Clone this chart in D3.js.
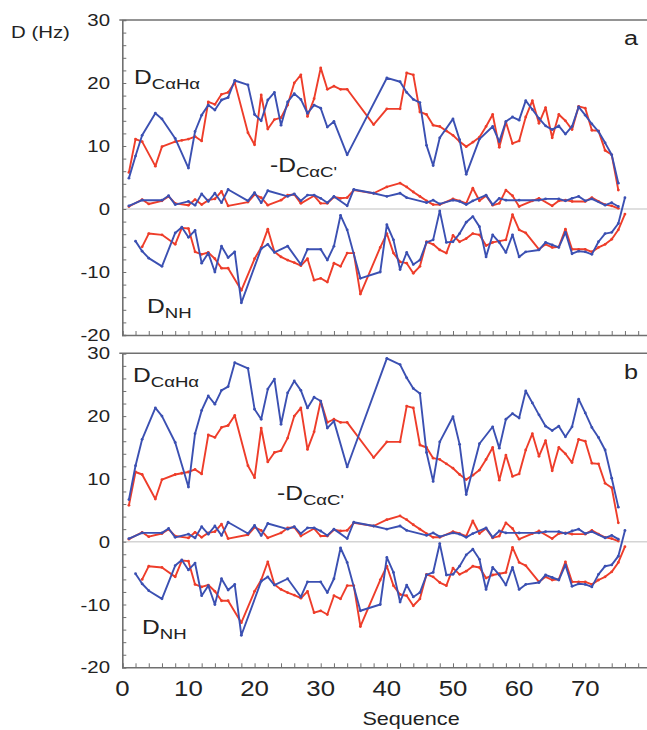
<!DOCTYPE html>
<html>
<head>
<meta charset="utf-8">
<script src="https://cdn.jsdelivr.net/npm/d3@7"></script>
<style>
  html, body { margin: 0; padding: 0; background: #fff; }
  svg { display: block; }
  text { font-family: "Liberation Sans", Arial, sans-serif; fill: #222; }
</style>
</head>
<body>
<svg id="chart" width="647" height="730"></svg>
<script>
// Residue numbers 1..76; null marks residues without a measured coupling.
const sequence = d3.range(1, 77);

// D(CαHα), experimental (red), shared by both panels
const chExp = [5.8, 11.1, 10.7, null, 6.8, 9.9, null, 10.7, 10.9, 11.1,
  11.5, 10.8, 17.0, 16.6, 18.2, 18.5, 20.1, null, 12.1, 10.2,
  18.1, 12.7, 14.2, 14.5, 16.5, 20.0, 21.3, 14.7, 17.5, 22.4,
  19.0, 19.5, 19.0, 19.0, null, null, null, 13.4, null, 15.9,
  null, 15.9, 21.6, 21.3, 15.4, 15.0, 13.3, 13.1, 12.4, 11.7,
  10.7, 9.9, 10.6, 11.4, 13.1, 15.0, 9.8, 13.8, 10.4, 10.8,
  14.6, 17.2, 13.6, 16.1, 11.3, 15.0, 14.0, 12.6, 16.3, 16.0,
  12.5, 12.4, 9.3, 8.6, 3.0, null];

// D(CαHα), calculated (blue), panel a
const chCalcA = [4.9, 8.4, 11.7, null, 15.2, 14.3, null, 11.2, null, 6.5,
  12.3, 14.9, 16.5, 15.7, 17.3, 17.7, 20.4, null, 19.7, 15.0,
  14.0, 17.3, 18.5, 13.3, 17.0, 18.3, 17.4, 15.2, 16.5, 16.0,
  13.0, 13.9, null, 8.6, null, null, null, null, null, 20.8,
  null, 20.2, 18.5, 17.4, 16.9, 10.1, 6.9, 11.3, null, 14.3,
  11.0, 5.5, null, 11.1, null, 13.1, 10.7, 13.9, 14.6, 14.1,
  17.2, 15.8, 14.4, 13.2, 12.6, 13.2, 11.9, 13.1, 16.2, 14.9,
  13.5, 12.3, 10.5, 8.6, 4.1, null];

// D(CαHα), calculated (blue), panel b
const chCalcB = [6.7, 12.1, 16.3, null, 21.3, 20.0, null, 15.8, null, 8.7,
  17.2, 20.9, 23.2, 21.9, 24.1, 24.7, 28.5, null, 27.6, 21.1,
  19.5, 24.3, 25.9, 18.7, 23.7, 25.6, 24.1, 21.3, 23.0, 22.4,
  18.1, 19.2, null, 11.9, null, null, null, null, null, 29.2,
  null, 28.2, 26.1, 24.4, 23.6, 14.2, 9.6, 15.9, null, 19.9,
  15.5, 7.5, null, 15.6, null, 18.3, 14.9, 19.5, 20.4, 19.7,
  24.0, 22.1, 20.2, 18.4, 17.7, 18.4, 16.7, 18.3, 22.7, 20.5,
  18.2, 16.6, 14.6, 10.1, 5.5, null];

// -D(CαC'), experimental (red)
const ccExp = [0.4, null, 1.5, 0.8, null, 1.3, 2.0, 0.9, null, 0.6,
  1.5, 0.7, 1.4, 1.6, 2.8, 0.5, null, null, 1.1, 2.3,
  1.8, 0.6, null, 1.4, 2.2, 2.3, 0.9, null, 2.1, 0.9,
  0.9, 1.9, 1.7, 1.8, 3.0, null, null, 2.5, null, 3.5,
  null, 4.1, 3.5, 2.7, 2.0, 1.3, 0.7, 0.7, null, 1.6,
  1.3, 0.9, 3.3, 1.3, 2.1, 0.6, 0.9, 3.0, 2.1, 0.4,
  null, 1.3, 1.7, null, 0.5, 1.3, 1.4, 1.2, null, 1.2,
  1.8, 1.2, 0.7, 0.5, 0.1, null];

// -D(CαC'), calculated (blue)
const ccCalc = [0.5, null, 1.4, null, null, 1.4, 2.1, 0.7, null, 1.2,
  0.6, 2.4, 1.2, 2.5, 1.0, 3.1, null, null, 1.3, 2.6,
  1.0, 2.9, null, null, 2.0, 2.4, 1.3, 2.2, 2.2, 1.7,
  1.0, 2.0, null, 0.5, 3.1, null, null, 2.5, null, 2.0,
  null, 2.5, 1.8, null, null, 1.0, 1.4, 0.8, null, 1.4,
  1.2, 0.7, 1.3, null, 2.2, 0.7, 1.7, 1.4, null, 1.4,
  null, null, 1.4, 1.6, null, 1.6, 1.3, 1.7, 2.0, 1.3,
  1.6, null, 0.6, 1.0, 0.4, null];

// D(NH), experimental (red)
const nhExp = [null, null, -6.0, -3.9, null, -4.1, null, -5.6, -3.0, -3.1,
  -6.8, -7.2, -6.9, -7.9, -9.4, -9.4, null, -12.9, null, -7.9,
  -6.1, -3.2, -6.8, -7.6, -8.1, -8.5, -9.0, -7.9, -11.3, -11.0,
  -11.6, -8.6, -9.1, -7.0, -7.0, -13.5, null, null, -6.1, -3.9,
  -7.0, -8.4, -8.6, -10.2, -9.1, -5.2, -5.6, -6.5, -7.0, -4.2,
  -5.2, -4.7, -3.9, -4.1, -5.8, -5.3, -5.1, -4.9, -0.9, -3.3,
  -3.8, null, -6.4, -5.6, -6.1, -6.0, -3.2, -6.4, -6.4, -6.4,
  -6.8, -6.1, -5.6, -4.8, -3.3, -0.8];

// D(NH), calculated (blue)
const nhCalc = [null, -5.1, -6.7, -7.8, null, -9.1, null, -3.8, -2.9, -4.5,
  -3.4, -8.6, -7.0, -10.0, -5.9, -7.7, -6.8, -14.9, null, null,
  -6.3, -5.6, -6.9, null, -5.9, null, -8.8, -6.4, null, -6.4,
  -8.1, -5.9, -1.0, -3.3, null, -11.0, null, null, -10.0, -2.5,
  -4.9, -9.6, -6.9, -8.8, -8.1, -5.3, -4.9, -0.3, -5.3, -5.2,
  -3.9, -2.1, -1.2, -2.8, -7.6, -4.1, -5.3, -6.9, -4.1, -7.6,
  -6.8, null, -6.5, -5.3, -5.7, -6.1, -3.7, -7.1, -6.7, -6.8,
  -7.2, -5.2, -3.9, -3.7, -2.3, 1.8];

const yTickValues = [-20, -10, 0, 10, 20, 30];
const xTickValues = [0, 10, 20, 30, 40, 50, 60, 70];

const RED = "#ee3d2a";
const BLUE = "#3b50b2";
const AXIS = "#707070";
const STRETCH = 1.2;   // horizontal stretch applied to all lettering

const svg = d3.select("#chart");

const x = d3.scaleLinear().domain([0, 80]).range([122.3, 651.4]);

const panels = [
  { top: 20, bottom: 335, chCalc: chCalcA, tag: "a",
    chLabel: [134, 84], ccLabel: [270, 172], nhLabel: [147, 313], tagPos: [624, 45] },
  { top: 353.3, bottom: 667.3, chCalc: chCalcB, tag: "b",
    chLabel: [133, 382], ccLabel: [277, 500], nhLabel: [142, 634], tagPos: [624, 379] }
];

function stretchedText(parent, px, py, size, anchor) {
  return parent.append("text")
    .attr("transform", `translate(${px},${py}) scale(${STRETCH},1)`)
    .attr("font-size", size)
    .attr("text-anchor", anchor || "start");
}

function series(values) {
  return sequence
    .map((s, i) => ({ s, v: values[i] }))
    .filter(d => d.v !== null);
}

// Label of the form D with a subscript, optionally preceded by a minus sign
function rdcLabel(parent, px, py, main, sub) {
  const t = stretchedText(parent, px, py, 20.5);
  t.append("tspan").text(main);
  t.append("tspan").attr("font-size", 15.5).attr("dy", 5).text(sub);
}

panels.forEach(p => {
  const g = svg.append("g");
  const y = d3.scaleLinear().domain([-20, 30]).range([p.bottom, p.top]);

  // zero line
  g.append("line")
    .attr("x1", x(0)).attr("x2", 647)
    .attr("y1", y(0)).attr("y2", y(0))
    .attr("stroke", "#d4d4d4").attr("stroke-width", 1.5);

  // left axis with inward minor ticks
  const yAxis = d3.axisLeft(y).tickValues(d3.range(-20, 31, 2))
    .tickSize(-4).tickFormat("");
  g.append("g").attr("transform", `translate(${x(0)},0)`).call(yAxis)
    .call(a => a.selectAll("line").attr("stroke", AXIS).attr("stroke-width", 1))
    .call(a => a.select(".domain").attr("stroke", AXIS).attr("stroke-width", 1.6));

  // bottom axis with inward minor ticks
  const xAxis = d3.axisBottom(x).tickValues(d3.range(0, 81, 2))
    .tickSize(-4).tickFormat("");
  g.append("g").attr("transform", `translate(0,${p.bottom})`).call(xAxis)
    .call(a => a.selectAll("line").attr("stroke", AXIS).attr("stroke-width", 1))
    .call(a => a.select(".domain").attr("stroke", AXIS).attr("stroke-width", 1.6));

  // top frame line
  g.append("line")
    .attr("x1", x(0) - 3).attr("x2", 647)
    .attr("y1", p.top).attr("y2", p.top)
    .attr("stroke", AXIS).attr("stroke-width", 1.6);

  // y tick labels
  yTickValues.forEach(v => {
    stretchedText(g, 110, y(v) + 6, 17, "end").text(v);
  });

  const line = d3.line().x(d => x(d.s)).y(d => y(d.v));

  const sets = [
    [chExp, RED], [p.chCalc, BLUE],
    [ccExp, RED], [ccCalc, BLUE],
    [nhExp, RED], [nhCalc, BLUE]
  ];
  sets.forEach(([vals, col]) => {
    const data = series(vals);
    g.append("path").datum(data)
      .attr("d", line)
      .attr("fill", "none")
      .attr("stroke", col)
      .attr("stroke-width", 1.9)
      .attr("stroke-linejoin", "round");
    g.selectAll(null).data(data).enter().append("circle")
      .attr("cx", d => x(d.s)).attr("cy", d => y(d.v))
      .attr("r", 1.4).attr("fill", col);
  });

  rdcLabel(g, p.chLabel[0], p.chLabel[1], "D", "CαHα");
  rdcLabel(g, p.ccLabel[0], p.ccLabel[1], "-D", "CαC'");
  rdcLabel(g, p.nhLabel[0], p.nhLabel[1], "D", "NH");
  stretchedText(g, p.tagPos[0], p.tagPos[1], 21).text(p.tag);
});

// x tick labels under the lower panel
xTickValues.forEach(v => {
  stretchedText(svg, x(v), 696, 21.5, "middle").text(v);
});

stretchedText(svg, 411, 725, 18, "middle").text("Sequence");
stretchedText(svg, 11, 38, 17).text("D (Hz)");
</script>
</body>
</html>
